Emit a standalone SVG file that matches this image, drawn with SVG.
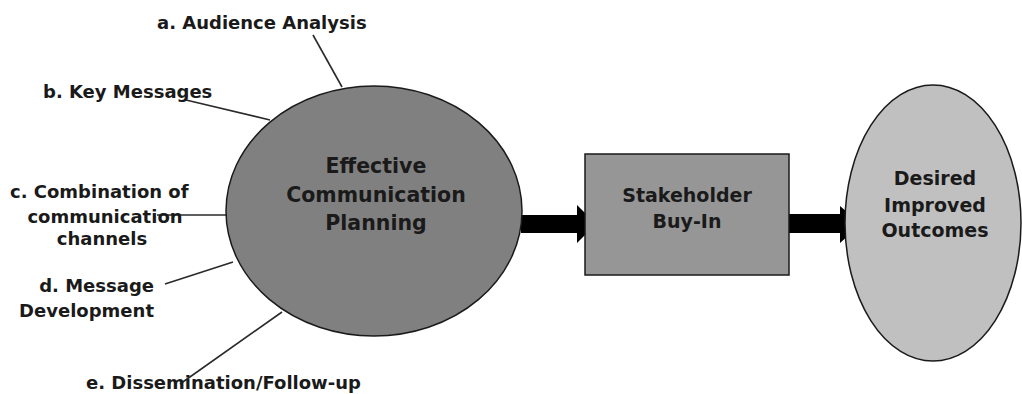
<svg xmlns="http://www.w3.org/2000/svg" width="1022" height="394" viewBox="0 0 1022 394">
  <style>
    .lbl { font-family: "DejaVu Sans", Verdana, sans-serif; font-weight: bold; font-size: 18px; fill: #1a1a1a; }
    .big { font-family: "DejaVu Sans", Verdana, sans-serif; font-weight: bold; font-size: 19px; fill: #1a1a1a; text-anchor: middle; }
    .big.xl { font-size: 20.5px; }
    .lead { stroke: #2a2a2a; stroke-width: 1.6; fill: none; }
    .shape { stroke: #1a1a1a; stroke-width: 1.5; }
  </style>
  <rect width="1022" height="394" fill="#ffffff"/>

  <!-- lead lines from the inputs to the planning ellipse -->
  <g id="connectors">
    <line class="lead" x1="313" y1="35" x2="342" y2="87"/>
    <line class="lead" x1="186" y1="100" x2="270" y2="120"/>
    <line class="lead" x1="157" y1="215" x2="233" y2="215"/>
    <line class="lead" x1="165" y1="284" x2="233" y2="262"/>
    <line class="lead" x1="180" y1="384" x2="282" y2="312"/>
    <!-- block arrows -->
    <polygon fill="#000" points="521,215 577,215 577,205 596,224 577,243 577,233 521,233"/>
    <polygon fill="#000" points="789,214 840,214 840,206 861,224 840,243 840,233 789,233"/>
  </g>

  <g id="planning">
    <ellipse class="shape" cx="374" cy="211" rx="148" ry="125" fill="#808080"/>
    <text class="big xl" x="376" y="173">Effective</text>
    <text class="big xl" x="376" y="202">Communication</text>
    <text class="big xl" x="376" y="230">Planning</text>
  </g>

  <g id="buyin">
    <rect class="shape" x="585" y="154" width="204" height="121" fill="#969696"/>
    <text class="big" x="687" y="202">Stakeholder</text>
    <text class="big" x="687" y="228">Buy-In</text>
  </g>

  <g id="outcomes">
    <ellipse class="shape" cx="933" cy="223" rx="88" ry="138" fill="#c0c0c0"/>
    <text class="big" x="935" y="185">Desired</text>
    <text class="big" x="935" y="212">Improved</text>
    <text class="big" x="935" y="237">Outcomes</text>
  </g>

  <g id="label-a"><text class="lbl" x="157" y="29">a. Audience Analysis</text></g>
  <g id="label-b"><text class="lbl" x="43" y="98">b. Key Messages</text></g>
  <g id="label-c">
    <text class="lbl" x="10" y="198">c. Combination of</text>
    <text class="lbl" x="105" y="223" text-anchor="middle">communication</text>
    <text class="lbl" x="102" y="245" text-anchor="middle">channels</text>
  </g>
  <g id="label-d">
    <text class="lbl" x="154" y="292" text-anchor="end">d. Message</text>
    <text class="lbl" x="154" y="317" text-anchor="end">Development</text>
  </g>
  <g id="label-e"><text class="lbl" x="86" y="389">e. Dissemination/Follow-up</text></g>
</svg>
